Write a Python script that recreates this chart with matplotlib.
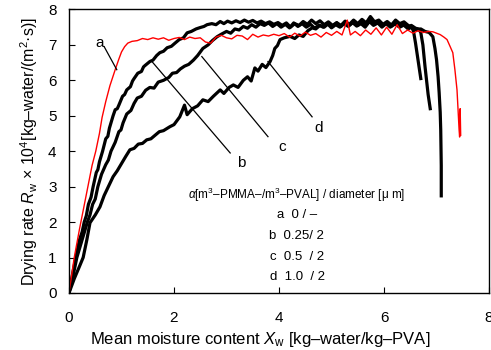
import numpy as np
import matplotlib
matplotlib.use("Agg")
import matplotlib.pyplot as plt

plt.rcParams['font.family'] = ['Liberation Sans', 'DejaVu Sans']
plt.rcParams['mathtext.fontset'] = 'custom'
plt.rcParams['mathtext.rm'] = 'Liberation Sans'
plt.rcParams['mathtext.it'] = 'Liberation Sans:italic'

# curve a : alpha = 0 (red)
curve_a = [(0, 0), (0.05, 0.5), (0.1, 1.0), (0.2, 1.8), (0.28, 2.4), (0.36, 3.0),
           (0.44, 3.6), (0.51, 4.0), (0.58, 4.5), (0.63, 4.95), (0.7, 5.4), (0.78, 5.85),
           (0.88, 6.3), (0.95, 6.6), (1.0, 6.8), (1.06, 6.95), (1.12, 7.05), (1.2, 7.1),
           (1.3, 7.12), (1.4, 7.18), (1.5, 7.15), (1.6, 7.2), (1.7, 7.16), (1.8, 7.2),
           (1.9, 7.13), (2.0, 7.18), (2.1, 7.21), (2.2, 7.15), (2.3, 7.22), (2.4, 7.18),
           (2.5, 7.2), (2.6, 7.08), (2.7, 7.05), (2.8, 7.22), (2.9, 7.27), (3.0, 7.2),
           (3.1, 7.17), (3.2, 7.27), (3.3, 7.25), (3.4, 7.15), (3.5, 7.3), (3.6, 7.22),
           (3.7, 7.28), (3.8, 7.25), (3.9, 7.3), (4.0, 7.26), (4.1, 7.32), (4.2, 7.22),
           (4.3, 7.33), (4.4, 7.25), (4.5, 7.36), (4.6, 7.27), (4.7, 7.32), (4.8, 7.22),
           (4.9, 7.35), (5.0, 7.27), (5.1, 7.38), (5.2, 7.28), (5.3, 7.7), (5.36, 7.28),
           (5.45, 7.38), (5.55, 7.26), (5.65, 7.42), (5.75, 7.3), (5.85, 7.48), (5.95, 7.28),
           (6.05, 7.5), (6.15, 7.3), (6.25, 7.57), (6.35, 7.32), (6.45, 7.42), (6.55, 7.33),
           (6.65, 7.4), (6.75, 7.35), (6.85, 7.38), (6.93, 7.37), (7.0, 7.33), (7.07, 7.29),
           (7.14, 7.22), (7.2, 7.15), (7.26, 6.95), (7.31, 6.78), (7.35, 6.3), (7.39, 5.73),
           (7.41, 5.17), (7.43, 4.6), (7.44, 4.4), (7.45, 5.2), (7.46, 4.45)]

# curve b : alpha = 0.25
curve_b = [(0, 0), (0.07, 0.55), (0.13, 1.0), (0.2, 1.5), (0.25, 1.72), (0.29, 2.0),
           (0.33, 2.18), (0.37, 2.5), (0.42, 2.7), (0.46, 3.0), (0.52, 3.4), (0.55, 3.48),
           (0.58, 3.7), (0.64, 4.0), (0.7, 4.35), (0.74, 4.42), (0.77, 4.65), (0.84, 5.0),
           (0.88, 5.17), (0.92, 5.2), (0.95, 5.3), (1.02, 5.55), (1.06, 5.6), (1.1, 5.73),
           (1.17, 5.82), (1.21, 5.98), (1.24, 6.05), (1.31, 6.2), (1.38, 6.25), (1.42, 6.38),
           (1.45, 6.42), (1.54, 6.53), (1.6, 6.57), (1.67, 6.7), (1.73, 6.78), (1.8, 6.82),
           (1.87, 6.92), (1.95, 6.96), (2.02, 7.05), (2.1, 7.15), (2.18, 7.2), (2.25, 7.34),
           (2.33, 7.38), (2.42, 7.45), (2.5, 7.49), (2.57, 7.52), (2.63, 7.57), (2.72, 7.6),
           (2.8, 7.57), (2.88, 7.66), (2.95, 7.6), (3.02, 7.67), (3.1, 7.62), (3.18, 7.68),
           (3.26, 7.63), (3.34, 7.7), (3.42, 7.64), (3.5, 7.69), (3.58, 7.62), (3.66, 7.67),
           (3.74, 7.6), (3.82, 7.65), (3.9, 7.58), (3.98, 7.63), (4.06, 7.55), (4.14, 7.62),
           (4.22, 7.5), (4.3, 7.6), (4.38, 7.55), (4.46, 7.66), (4.54, 7.58), (4.62, 7.7),
           (4.7, 7.6), (4.78, 7.68), (4.86, 7.57), (4.94, 7.65), (5.02, 7.55), (5.1, 7.63),
           (5.18, 7.52), (5.26, 7.66), (5.34, 7.58), (5.42, 7.7), (5.5, 7.6), (5.58, 7.72),
           (5.66, 7.62), (5.74, 7.8), (5.82, 7.65), (5.9, 7.7), (5.98, 7.58), (6.06, 7.66),
           (6.14, 7.56), (6.22, 7.7), (6.3, 7.6), (6.38, 7.65), (6.46, 7.55), (6.52, 7.5),
           (6.56, 7.4), (6.6, 7.05), (6.64, 6.65), (6.68, 6.25), (6.7, 6.05)]

# curve c : alpha = 0.5
curve_c = [(0, 0), (0.08, 0.5), (0.15, 1.0), (0.25, 1.5), (0.35, 2.0), (0.4, 2.2),
           (0.45, 2.5), (0.5, 2.65), (0.55, 3.0), (0.62, 3.35), (0.7, 3.62), (0.75, 3.75),
           (0.8, 4.0), (0.88, 4.25), (0.95, 4.55), (0.99, 4.6), (1.03, 4.8), (1.1, 5.05),
           (1.18, 5.15), (1.24, 5.35), (1.3, 5.5), (1.38, 5.55), (1.46, 5.72), (1.54, 5.8),
           (1.62, 5.78), (1.7, 5.95), (1.8, 6.0), (1.9, 6.08), (1.97, 6.2), (2.05, 6.22),
           (2.12, 6.32), (2.2, 6.4), (2.28, 6.45), (2.37, 6.57), (2.45, 6.7), (2.55, 6.9),
           (2.65, 7.0), (2.73, 7.12), (2.82, 7.23), (2.9, 7.3), (3.0, 7.38), (3.08, 7.33),
           (3.16, 7.45), (3.24, 7.42), (3.32, 7.52), (3.4, 7.47), (3.48, 7.57), (3.56, 7.5),
           (3.64, 7.6), (3.72, 7.55), (3.8, 7.62), (3.88, 7.52), (3.96, 7.6), (4.04, 7.5),
           (4.12, 7.58), (4.2, 7.48), (4.28, 7.62), (4.36, 7.52), (4.44, 7.6), (4.52, 7.5),
           (4.6, 7.58), (4.68, 7.47), (4.76, 7.56), (4.84, 7.5), (4.92, 7.6), (5.0, 7.48),
           (5.08, 7.57), (5.16, 7.5), (5.24, 7.6), (5.32, 7.52), (5.4, 7.63), (5.48, 7.53),
           (5.56, 7.6), (5.64, 7.5), (5.72, 7.66), (5.8, 7.55), (5.88, 7.62), (5.96, 7.5),
           (6.04, 7.6), (6.12, 7.5), (6.2, 7.62), (6.28, 7.52), (6.36, 7.58), (6.44, 7.5),
           (6.52, 7.55), (6.6, 7.47), (6.66, 7.45), (6.7, 7.35), (6.74, 7.0), (6.78, 6.4),
           (6.81, 6.0), (6.84, 5.6), (6.88, 5.2)]

# curve d : alpha = 1.0
curve_d = [(0, 0), (0.1, 0.4), (0.2, 0.75), (0.27, 1.0), (0.34, 1.5), (0.4, 1.98),
           (0.5, 2.2), (0.59, 2.43), (0.67, 2.75), (0.75, 3.0), (0.84, 3.28), (0.92, 3.45),
           (1.0, 3.65), (1.08, 3.85), (1.16, 4.04), (1.24, 4.08), (1.32, 4.2), (1.4, 4.22),
           (1.48, 4.32), (1.56, 4.35), (1.64, 4.45), (1.72, 4.55), (1.8, 4.58), (1.92, 4.69),
           (2.0, 4.75), (2.11, 4.97), (2.2, 5.3), (2.25, 5.03), (2.35, 5.2), (2.45, 5.28),
           (2.55, 5.45), (2.65, 5.4), (2.75, 5.55), (2.88, 5.73), (2.95, 5.63), (3.05, 5.8),
           (3.13, 5.87), (3.22, 5.8), (3.32, 6.0), (3.4, 6.1), (3.47, 5.98), (3.54, 6.35),
           (3.6, 6.26), (3.68, 6.45), (3.75, 6.36), (3.83, 6.53), (3.88, 6.7), (3.92, 6.9),
           (3.97, 6.98), (4.02, 7.15), (4.1, 7.2), (4.21, 7.24), (4.3, 7.18), (4.38, 7.28),
           (4.46, 7.24), (4.55, 7.4), (4.63, 7.48), (4.7, 7.45), (4.78, 7.55), (4.86, 7.5),
           (4.94, 7.6), (5.02, 7.52), (5.1, 7.62), (5.18, 7.55), (5.26, 7.67), (5.34, 7.56),
           (5.42, 7.64), (5.5, 7.55), (5.58, 7.65), (5.66, 7.56), (5.74, 7.7), (5.82, 7.58),
           (5.9, 7.66), (5.98, 7.55), (6.06, 7.62), (6.14, 7.52), (6.22, 7.6), (6.3, 7.5),
           (6.38, 7.56), (6.46, 7.45), (6.54, 7.52), (6.62, 7.42), (6.7, 7.45), (6.78, 7.38),
           (6.86, 7.35), (6.93, 7.23), (6.97, 6.9), (7.0, 6.58), (7.03, 6.1), (7.05, 5.65),
           (7.07, 5.1), (7.08, 4.6), (7.09, 3.6), (7.09, 2.74)]

# label letter, text position, leader line start -> end (on curve)
labels = ['a', 'b', 'c', 'd']
label_pos = [(0.58, 7.05), (3.28, 3.68), (4.06, 4.12), (4.76, 4.66)]
leader_from = [(0.67, 6.95), (3.07, 3.95), (3.79, 4.41), (4.63, 4.97)]
leader_to = [(0.91, 6.3), (1.58, 6.53), (2.53, 6.67), (3.79, 6.53)]

legend_title = r'$\alpha$[m$^3$–PMMA–/m$^3$–PVAL] / diameter [μ m]'
legend_rows = ['a  0 / –', 'b  0.25/ 2', 'c  0.5  / 2', 'd  1.0  / 2']

fig = plt.figure(figsize=(4.91, 3.5), dpi=100)
ax = fig.add_axes([0.1405, 0.163, 0.8555, 0.81])

for curve, col, lw in [(curve_d, 'black', 2.3), (curve_c, 'black', 2.3),
                       (curve_b, 'black', 2.3), (curve_a, 'red', 1.0)]:
    xy = np.array(curve)
    ax.plot(xy[:, 0], xy[:, 1], color=col, lw=lw, solid_joinstyle='round')

for lab, p, s, e in zip(labels, label_pos, leader_from, leader_to):
    ax.plot([s[0], e[0]], [s[1], e[1]], color='black', lw=0.9)
    ax.text(p[0], p[1], lab, fontsize=11, ha='center', va='center')

ax.text(4.33, 2.77, legend_title, fontsize=8.5, ha='center', va='center')
row_x = [3.97, 3.80, 3.82, 3.82]
row_y = [2.2, 1.6, 1.02, 0.45]
for t, xx, yy in zip(legend_rows, row_x, row_y):
    ax.text(xx, yy, t, fontsize=9.5, ha='left', va='center')

ax.set_xlim(0, 8)
ax.set_ylim(0, 8)
ax.set_xticks([0, 2, 4, 6, 8])
ax.set_yticks(range(0, 9))
ax.tick_params(axis='x', direction='in', length=4, pad=13, labelsize=11)
ax.tick_params(axis='y', direction='in', length=4, pad=9, labelsize=11)
ax.set_xlabel(r'Mean moisture content $X_\mathrm{w}$ [kg–water/kg–PVA]', fontsize=12, labelpad=4)
ax.xaxis.set_label_coords(0.455, -0.13)
ax.set_ylabel(r'Drying rate $R_\mathrm{w}$ × 10$^4$[kg–water/(m$^2$·s)]', fontsize=11.5, labelpad=6)
for sp in ax.spines.values():
    sp.set_linewidth(1.0)

fig.savefig('out.png', dpi=100)
